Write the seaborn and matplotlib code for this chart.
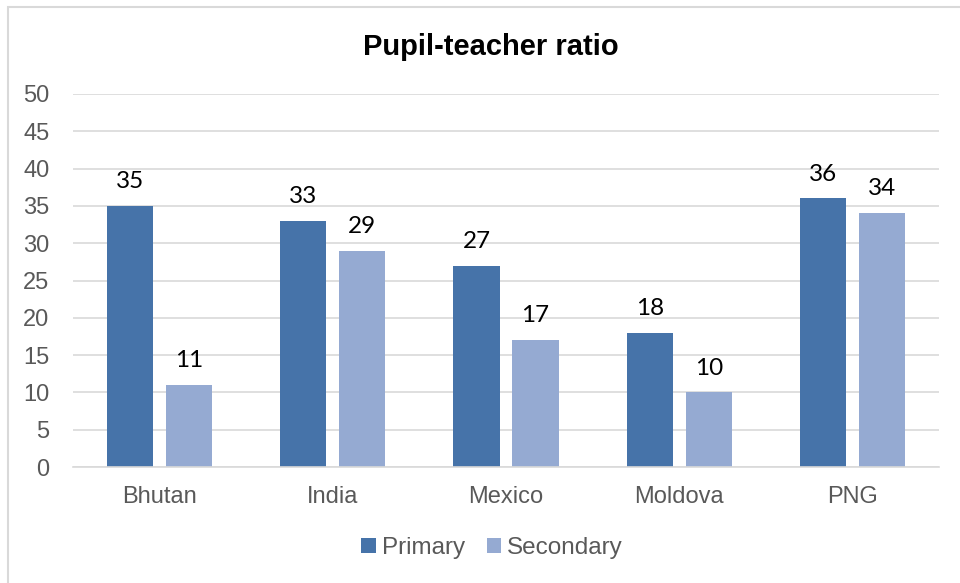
import matplotlib
matplotlib.use("Agg")
import matplotlib.pyplot as plt
from matplotlib.patches import Rectangle
import seaborn as sns
import pandas as pd

countries = ["Bhutan", "India", "Mexico", "Moldova", "PNG"]
primary = [35, 33, 27, 18, 36]
secondary = [11, 29, 17, 10, 34]
series_names = ["Primary", "Secondary"]
yticks = [0, 5, 10, 15, 20, 25, 30, 35, 40, 45, 50]

df = pd.DataFrame({
    "country": countries * 2,
    "level": [series_names[0]] * len(countries) + [series_names[1]] * len(countries),
    "ratio": primary + secondary,
})

sns.set_theme(style="white")
plt.rcParams["font.family"] = ["Liberation Sans", "DejaVu Sans"]

fig = plt.figure(figsize=(9.6, 5.83), dpi=100)
W, H = 960, 583
ax = fig.add_axes([73 / W, 1 - 467 / H, (939 - 73) / W, (467 - 94) / H])

colors = ["#4673A9", "#95AAD2"]
sns.barplot(data=df, x="country", y="ratio", hue="level", palette=colors,
            width=0.682, gap=0.22, saturation=1, ax=ax, legend=True,
            edgecolor="none")

ax.set_ylim(0, 50)
ax.set_xlim(-0.5, len(countries) - 0.5)
ax.set_yticks(yticks)
ax.yaxis.grid(True, color="#D9D9D9", linewidth=1.2)
ax.set_axisbelow(True)
for s in ["top", "right", "left"]:
    ax.spines[s].set_visible(False)
ax.spines["bottom"].set_color("#D9D9D9")
ax.spines["bottom"].set_linewidth(1.2)
ax.tick_params(axis="both", length=0, labelsize=17, colors="#595959")
ax.tick_params(axis="y", pad=17)
ax.tick_params(axis="x", pad=14)
ax.set_xlabel("")
ax.set_ylabel("")

for cont in ax.containers:
    ax.bar_label(cont, padding=10, fontsize=17.5, color="black",
                 family=["Lato", "DejaVu Sans"])

fig.text(491 / W, 1 - 47 / H, "Pupil-teacher ratio", ha="center", va="center",
         fontsize=21, fontweight="bold", color="black")

handles, labels = ax.get_legend_handles_labels()
ax.get_legend().remove()
fig.legend(handles, labels, loc="center", bbox_to_anchor=(492 / W, 1 - 548 / H),
           ncol=2, frameon=False, fontsize=17.5, handlelength=0.6,
           handleheight=0.6, handletextpad=0.25, columnspacing=0.9,
           labelcolor="#595959")

fig.patches.append(Rectangle((8 / W, -0.1), 1.2, 1 - 7 / H + 0.1,
                             transform=fig.transFigure, fill=False,
                             edgecolor="#D9D9D9", linewidth=1.5))

fig.savefig("out.png", dpi=100, facecolor="white")
